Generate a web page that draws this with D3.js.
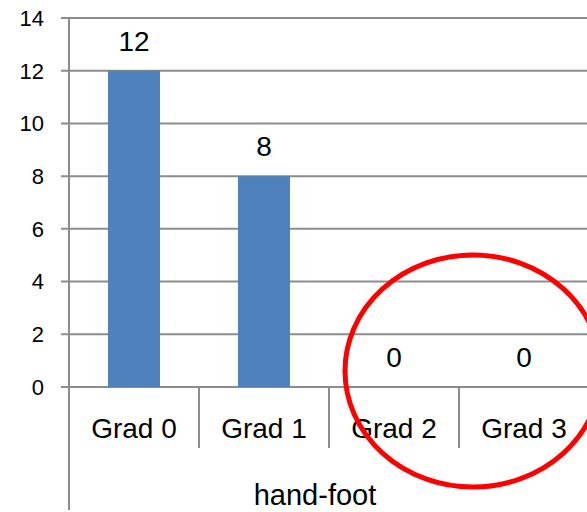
<!DOCTYPE html>
<html>
<head>
<meta charset="utf-8">
<script src="https://cdn.jsdelivr.net/npm/d3@7"></script>
<style>
  body { margin: 0; background: #fff; }
  svg { display: block; font-family: "Liberation Sans", Arial, sans-serif; }
</style>
</head>
<body>
<script>
// chart data
var categories = ["Grad 0", "Grad 1", "Grad 2", "Grad 3"];
var values = [12, 8, 0, 0];
var groupLabel = "hand-foot";
var yTicks = [0, 2, 4, 6, 8, 10, 12, 14];

var width = 587, height = 512;

var svg = d3.select("body").append("svg")
  .attr("width", width)
  .attr("height", height);

// scales
var x = d3.scaleBand()
  .domain(categories)
  .range([69, 589])
  .padding(0);

var y = d3.scaleLinear()
  .domain([0, 14])
  .range([387, 18]);

// gridlines
svg.append("g")
  .selectAll("line")
  .data(yTicks)
  .enter().append("line")
  .attr("x1", 61)
  .attr("x2", width)
  .attr("y1", function(d) { return y(d); })
  .attr("y2", function(d) { return y(d); })
  .attr("stroke", "#8c8c8c")
  .attr("stroke-width", 2);

// y tick labels
svg.append("g")
  .selectAll("text")
  .data(yTicks)
  .enter().append("text")
  .attr("x", 44)
  .attr("y", function(d) { return y(d); })
  .attr("dy", "0.36em")
  .attr("text-anchor", "end")
  .style("font-size", "22px")
  .attr("fill", "#000")
  .text(function(d) { return d; });

// bars
var barW = x.bandwidth() * 0.4;
svg.append("g")
  .selectAll("rect")
  .data(values)
  .enter().append("rect")
  .attr("x", function(d, i) { return x(categories[i]) + (x.bandwidth() - barW) / 2; })
  .attr("y", function(d) { return y(d); })
  .attr("width", barW)
  .attr("height", function(d) { return y(0) - y(d); })
  .attr("fill", "#4f81bd");

// value labels
svg.append("g")
  .selectAll("text")
  .data(values)
  .enter().append("text")
  .attr("x", function(d, i) { return x(categories[i]) + x.bandwidth() / 2; })
  .attr("y", function(d) { return y(d) - 20; })
  .attr("text-anchor", "middle")
  .style("font-size", "28px")
  .attr("fill", "#000")
  .text(function(d) { return d; });

// y axis line (goes down through the category area)
svg.append("line")
  .attr("x1", 69).attr("x2", 69)
  .attr("y1", y(14)).attr("y2", 510)
  .attr("stroke", "#8c8c8c")
  .attr("stroke-width", 2);

// category separators
svg.append("g")
  .selectAll("line")
  .data(categories.slice(1))
  .enter().append("line")
  .attr("x1", function(d) { return x(d); })
  .attr("x2", function(d) { return x(d); })
  .attr("y1", y(0))
  .attr("y2", 448)
  .attr("stroke", "#8c8c8c")
  .attr("stroke-width", 2);

// category labels
svg.append("g")
  .selectAll("text")
  .data(categories)
  .enter().append("text")
  .attr("x", function(d) { return x(d) + x.bandwidth() / 2; })
  .attr("y", 438)
  .attr("text-anchor", "middle")
  .style("font-size", "28px")
  .attr("fill", "#000")
  .text(function(d) { return d; });

// group label
svg.append("text")
  .attr("x", 315)
  .attr("y", 505)
  .attr("text-anchor", "middle")
  .style("font-size", "29px")
  .attr("fill", "#000")
  .text(groupLabel);

// red annotation ellipse round the zero bars
svg.append("ellipse")
  .attr("cx", x("Grad 3") + 14)
  .attr("cy", y(0) - 16)
  .attr("rx", 128)
  .attr("ry", 116)
  .attr("fill", "none")
  .attr("stroke", "#ff0000")
  .attr("stroke-width", 5);
</script>
</body>
</html>
